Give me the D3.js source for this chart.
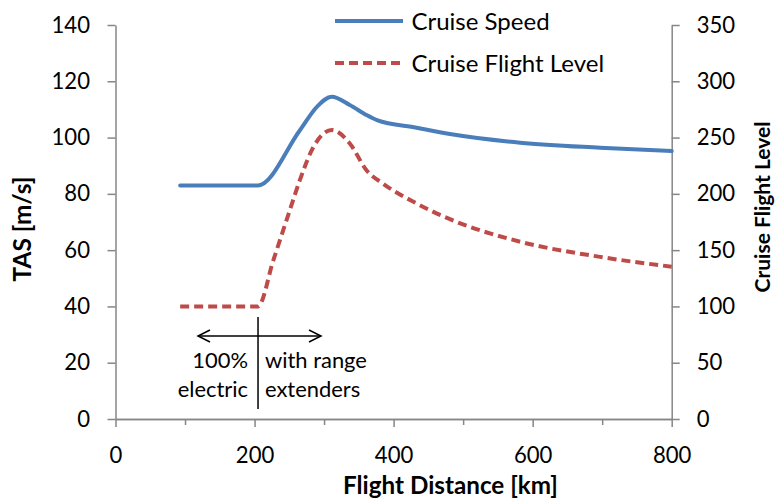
<!DOCTYPE html>
<html><head><meta charset="utf-8">
<script src="https://cdn.jsdelivr.net/npm/d3@7"></script>
<style>
body{margin:0;background:#fff;}
text{font-family:Lato,"Open Sans",sans-serif;fill:#000;}
</style></head>
<body><svg id="c" width="776" height="499"></svg>
<script>
// Data
const speedKm   = [93, 205, 265, 290, 311, 337, 361, 376, 433, 481, 582, 697, 800];
const speedVal  = [83, 83, 102.5, 111, 114.5, 111.6, 108, 106.2, 103.5, 101.3, 98.2, 96.4, 95.2];
const levelKm   = [93, 205, 227, 251, 265, 285, 311, 337, 361, 385, 433, 481, 582, 697, 800];
const levelVal  = [100, 100, 141, 186, 212, 242, 256.7, 244.8, 221, 209, 191.5, 177.5, 157.5, 144, 135.3];
const xTicks = [0, 200, 400, 600, 800];
const xMinor = [100, 300, 500, 700];
const yLeftTicks = [0, 20, 40, 60, 80, 100, 120, 140];
const yRightTicks = [0, 50, 100, 150, 200, 250, 300, 350];
const seriesNames = ["Cruise Speed", "Cruise Flight Level"];
const xTitle = "Flight Distance [km]";
const yLeftTitle = "TAS [m/s]";
const yRightTitle = "Cruise Flight Level";
const annLeft = ["100%", "electric"];
const annRight = ["with range", "extenders"];

const svg = d3.select("#c");
const L = 115.5, R = 671.7, T = 25, B = 419;
const x = d3.scaleLinear().domain([0, 800]).range([L, R]);
const yL = d3.scaleLinear().domain([0, 140]).range([B, T]);
const yR = d3.scaleLinear().domain([0, 350]).range([B, T]);
const axisColor = "#868686";
const blue = "#4A7EBB", red = "#BE4B48";

// font size that makes a sample string reach a target width
function fitSize(str, target, weight){
  const t = svg.append("text").attr("font-size", 20).attr("font-weight", weight || "normal").text(str);
  const w = t.node().getComputedTextLength();
  t.remove();
  return 20 * target / w;
}
const tickFs = fitSize("140", 38.5);
const legFs = (fitSize(seriesNames[0], 138) + fitSize(seriesNames[1], 193)) / 2;
const annFs = (fitSize(annRight[0], 101.7) + fitSize(annLeft[1], 70.6)) / 2;

function styleAxis(g){
  g.selectAll(".domain").attr("stroke", axisColor).attr("stroke-width", 1.5);
  g.selectAll(".tick line").attr("stroke", axisColor).attr("stroke-width", 1.5);
  g.selectAll(".tick text").attr("font-size", tickFs).attr("fill", "#000").attr("font-family", "Lato");
}

// minor x ticks
svg.append("g").attr("transform", `translate(0,${B})`)
  .call(d3.axisBottom(x).tickValues(xMinor).tickSize(6).tickSizeOuter(0).tickFormat(""))
  .call(styleAxis);
// bottom axis
const gx = svg.append("g").attr("transform", `translate(0,${B})`)
  .call(d3.axisBottom(x).tickValues(xTicks).tickSize(8).tickSizeOuter(0))
  .call(styleAxis);
gx.selectAll(".tick text").attr("y", 44).attr("dy", 0);

// left axis
svg.append("g").attr("transform", `translate(${L},0)`)
  .call(d3.axisLeft(yL).tickValues(yLeftTicks).tickSize(8).tickSizeOuter(0).tickPadding(17.5))
  .call(styleAxis);
// right axis
svg.append("g").attr("transform", `translate(${R},0)`)
  .call(d3.axisRight(yR).tickValues(yRightTicks).tickSize(8).tickSizeOuter(0).tickPadding(17))
  .call(styleAxis);

// lines
const speedData = speedKm.map((k, i) => [k, speedVal[i]]);
const levelData = levelKm.map((k, i) => [k, levelVal[i]]);
svg.append("path").datum(speedData)
  .attr("fill", "none").attr("stroke", blue).attr("stroke-width", 4).attr("stroke-linecap", "round")
  .attr("d", d3.line().x(d => x(d[0])).y(d => yL(d[1])).curve(d3.curveMonotoneX));
svg.append("path").datum(levelData)
  .attr("fill", "none").attr("stroke", red).attr("stroke-width", 4).attr("stroke-dasharray", "9,5")
  .attr("d", d3.line().x(d => x(d[0])).y(d => yR(d[1])).curve(d3.curveMonotoneX));

// legend
const lg = svg.append("g");
lg.append("line").attr("x1", 335).attr("x2", 403).attr("y1", 21).attr("y2", 21)
  .attr("stroke", blue).attr("stroke-width", 4);
lg.append("line").attr("x1", 335).attr("x2", 403).attr("y1", 63).attr("y2", 63)
  .attr("stroke", red).attr("stroke-width", 4).attr("stroke-dasharray", "9,5");
lg.append("text").attr("x", 411.5).attr("y", 21).attr("dy", "0.36em").attr("font-size", legFs).text(seriesNames[0]);
lg.append("text").attr("x", 411.5).attr("y", 63).attr("dy", "0.36em").attr("font-size", legFs).text(seriesNames[1]);

// axis titles
svg.append("text").attr("x", 450.5).attr("y", 494).attr("text-anchor", "middle")
  .attr("font-size", fitSize(xTitle, 215, "bold")).attr("font-weight", "bold").text(xTitle);
svg.append("text").attr("transform", `translate(31,229) rotate(-90)`).attr("text-anchor", "middle")
  .attr("font-size", fitSize(yLeftTitle, 105, "bold")).attr("font-weight", "bold").text(yLeftTitle);
svg.append("text").attr("transform", `translate(770,207) rotate(-90)`).attr("text-anchor", "middle")
  .attr("font-size", fitSize(yRightTitle, 171, "bold")).attr("font-weight", "bold").text(yRightTitle);

// annotation
const ax = x(205);
svg.append("line").attr("x1", ax).attr("x2", ax).attr("y1", 317).attr("y2", 409)
  .attr("stroke", "#000").attr("stroke-width", 1.5);
const ay = 336, axL = 198, axR = 321;
svg.append("line").attr("x1", axL).attr("x2", axR).attr("y1", ay).attr("y2", ay)
  .attr("stroke", "#000").attr("stroke-width", 1.5);
svg.append("path").attr("d", `M${axL+12},${ay-6} L${axL},${ay} L${axL+12},${ay+6}`)
  .attr("fill", "none").attr("stroke", "#000").attr("stroke-width", 1.5);
svg.append("path").attr("d", `M${axR-12},${ay-6} L${axR},${ay} L${axR-12},${ay+6}`)
  .attr("fill", "none").attr("stroke", "#000").attr("stroke-width", 1.5);
annLeft.forEach((t, i) => svg.append("text").attr("x", 248).attr("y", 368 + i * 28.5)
  .attr("text-anchor", "end").attr("font-size", annFs).text(t));
annRight.forEach((t, i) => svg.append("text").attr("x", 265).attr("y", 368 + i * 28.5)
  .attr("font-size", annFs).text(t));
</script></body></html>
